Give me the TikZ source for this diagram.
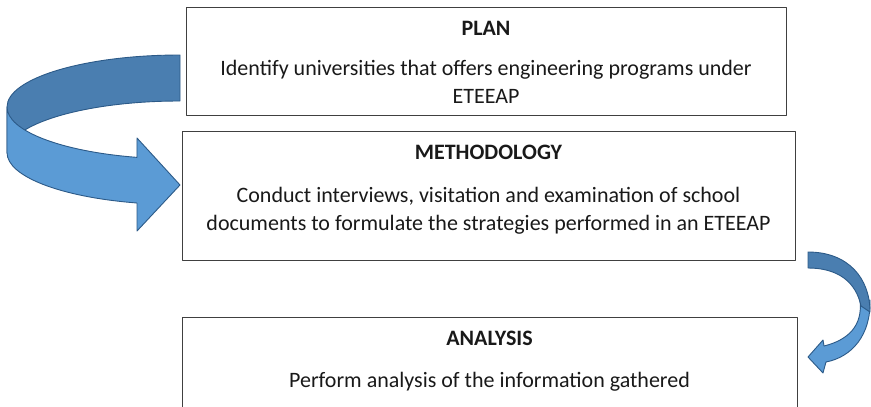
\documentclass[tikz,border=0pt]{standalone}
\usepackage{fontspec}
\setmainfont{Carlito}
\definecolor{arrlight}{HTML}{5B9BD5}
\definecolor{arrdark}{HTML}{4A7EB0}
\definecolor{arredge}{HTML}{2C5A88}
\begin{document}
\begin{tikzpicture}[x=1pt,y=-1pt, line join=round, line cap=round,
	box/.style={draw=black!75, line width=0.9pt, inner sep=0pt},
	title/.style={anchor=base, inner sep=0pt, text=black!90, font=\bfseries\fontsize{22}{26}\selectfont},
	body/.style={anchor=base, inner sep=0pt, align=center, text=black!90, font=\fontsize{22}{27.5}\selectfont},
	band/.style={line width=0.9pt, draw=arredge}]
	\useasboundingbox (0,0) rectangle (871,407);
	% stages
	\node[box, minimum width=600pt, minimum height=108pt] (plan) at (486,61) {};
	\node[box, minimum width=613pt, minimum height=129pt] (method) at (488.5,195.5) {};
	\node[box, minimum width=615pt, minimum height=93pt] (analysis) at (489.5,363.5) {};
	% body texts sit on the baseline of their last line
	\node[title] (plantitle) at (486,35) {PLAN};
	\node[body] (plantext) at (486,103) {Identify universities that offers engineering programs under\\ETEEAP};
	\node[title] (methodtitle) at (488.5,159) {METHODOLOGY};
	\node[body] (methodtext) at (488.5,230) {Conduct interviews, visitation and examination of school\\documents to formulate the strategies performed in an ETEEAP};
	\node[title] (analysistitle) at (489.5,345) {ANALYSIS};
	\node[body] (analysistext) at (489.5,387) {Perform analysis of the information gathered};
	% big u-turn arrow, plan -> methodology
	\def\rx{173} \def\ry{52} % ellipse radii
	\filldraw[band, fill=arrdark] (180,55) arc[start angle=270, end angle=180, x radius=\rx, y radius=\ry]
		-- (7,153) arc[start angle=180, end angle=270, x radius=\rx, y radius=\ry] -- cycle;
	\filldraw[band, fill=arrlight] (7,107) arc[start angle=180, end angle=104.4, x radius=\rx, y radius=\ry]
		-- (137,138) -- (180,185) -- (137,231) -- (137,203)
		arc[start angle=104.4, end angle=180, x radius=\rx, y radius=\ry] -- cycle;
	% small arrow, methodology -> analysis
	\filldraw[band, fill=arrlight] (870,300) .. controls (871,335) and (852,357) .. (826,362)
		-- (823,373) -- (808,357) -- (823,340) -- (824,346) .. controls (848,340) and (863,326) .. (860,300) -- cycle;
	\filldraw[band, fill=arrdark] (808,252) .. controls (848,252) and (870,278) .. (870,312)
		-- (861,306) .. controls (856,282) and (838,268) .. (808,268) -- cycle;
\end{tikzpicture}
\end{document}
